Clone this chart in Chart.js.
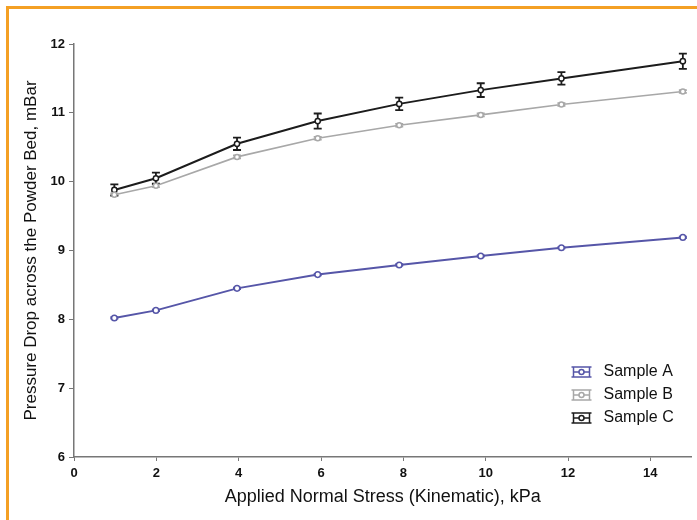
<!DOCTYPE html>
<html>
<head>
<meta charset="utf-8">
<script src="https://cdn.jsdelivr.net/npm/chart.js@4.4.1/dist/chart.umd.min.js"></script>
<style>
  body { margin: 0; background: #fff; }
  #wrap { position: relative; width: 697px; height: 520px; overflow: hidden; }
  #frame { position: absolute; left: 6px; top: 6px; width: 720px; height: 540px;
           border-top: 3px solid #f4a024; border-left: 3px solid #f4a024; pointer-events: none; }
</style>
</head>
<body>
<div id="wrap">
  <canvas id="chart" width="697" height="520"></canvas>
  <div id="frame"></div>
</div>
<script>
// applied normal stress, kPa
var stress = [0.98, 1.99, 3.96, 5.92, 7.9, 9.88, 11.84, 14.79];

// pressure drop, mBar
var sampleA = [8.02, 8.13, 8.45, 8.65, 8.79, 8.92, 9.04, 9.19];
var sampleB = [9.81, 9.94, 10.36, 10.63, 10.82, 10.97, 11.12, 11.31];
var sampleC = [9.88, 10.05, 10.55, 10.88, 11.13, 11.33, 11.50, 11.75];

// error bars (+/-)
var errA = [0.01, 0.01, 0.01, 0.01, 0.01, 0.01, 0.01, 0.01];
var errB = [0.02, 0.02, 0.02, 0.02, 0.02, 0.02, 0.02, 0.02];
var errC = [0.08, 0.08, 0.09, 0.11, 0.09, 0.10, 0.09, 0.11];

var yTicks = [6, 7, 8, 9, 10, 11, 12];
var xTicks = [0, 2, 4, 6, 8, 10, 12, 14];

var font = '"Liberation Sans", Arial, sans-serif';

function pts(ys) {
  return ys.map(function (y, i) { return { x: stress[i], y: y }; });
}

var series = [
  { label: 'Sample A', data: sampleA, err: errA, color: '#5656a8', width: 2, radius: 2.8 },
  { label: 'Sample B', data: sampleB, err: errB, color: '#a8a8a8', width: 1.6, radius: 2.5 },
  { label: 'Sample C', data: sampleC, err: errC, color: '#1c1c1c', width: 2, radius: 2.6 }
];

// error bars drawn through the y scale
var errorBars = {
  id: 'errorBars',
  beforeDatasetsDraw: function (chart) {
    var ctx = chart.ctx, yScale = chart.scales.y;
    chart.data.datasets.forEach(function (ds, di) {
      var meta = chart.getDatasetMeta(di);
      ctx.save();
      ctx.strokeStyle = ds.borderColor;
      ctx.lineWidth = 1.8;
      meta.data.forEach(function (p, i) {
        var v = ds.data[i].y, e = ds.errors[i];
        var top = yScale.getPixelForValue(v + e), bot = yScale.getPixelForValue(v - e);
        ctx.beginPath();
        ctx.moveTo(p.x, top); ctx.lineTo(p.x, bot);
        ctx.moveTo(p.x - 4, top); ctx.lineTo(p.x + 4, top);
        ctx.moveTo(p.x - 4, bot); ctx.lineTo(p.x + 4, bot);
        ctx.stroke();
      });
      ctx.restore();
    });
  }
};

// legend in the lower right of the plot
var cornerLegend = {
  id: 'cornerLegend',
  afterDraw: function (chart) {
    var ctx = chart.ctx, area = chart.chartArea;
    var x0 = area.right - 118, tx = area.right - 88;
    chart.data.datasets.forEach(function (ds, i) {
      var y = area.bottom - 85 + i * 23;
      ctx.save();
      ctx.strokeStyle = ds.borderColor;
      ctx.lineWidth = 1.5;
      ctx.beginPath();
      ctx.moveTo(x0, y); ctx.lineTo(x0 + 16, y);
      [x0, x0 + 16].forEach(function (bx) {
        ctx.moveTo(bx, y - 5); ctx.lineTo(bx, y + 5);
      });
      ctx.moveTo(x0 - 2, y - 5); ctx.lineTo(x0 + 18, y - 5);
      ctx.moveTo(x0 - 2, y + 5); ctx.lineTo(x0 + 18, y + 5);
      ctx.stroke();
      ctx.beginPath();
      ctx.fillStyle = '#fff';
      ctx.arc(x0 + 8, y, 2.5, 0, Math.PI * 2);
      ctx.fill(); ctx.stroke();
      ctx.fillStyle = '#111';
      ctx.font = '16px ' + font;
      ctx.textBaseline = 'middle';
      ctx.fillText(ds.label, tx, y);
      ctx.restore();
    });
  }
};

new Chart(document.getElementById('chart'), {
  type: 'line',
  data: {
    datasets: series.map(function (s) {
      return {
        label: s.label,
        data: pts(s.data),
        errors: s.err,
        borderColor: s.color,
        borderWidth: s.width,
        pointRadius: s.radius,
        pointBorderWidth: 1.5,
        pointBackgroundColor: '#fff',
        pointBorderColor: s.color,
        tension: 0,
        fill: false
      };
    })
  },
  options: {
    responsive: false,
    animation: false,
    layout: { padding: { top: 44, right: 4, left: 0, bottom: 0 } },
    plugins: { legend: { display: false }, tooltip: { enabled: false } },
    scales: {
      x: {
        type: 'linear',
        min: 0, max: 15,
        afterBuildTicks: function (s) { s.ticks = xTicks.map(function (v) { return { value: v }; }); },
        afterFit: function (s) { s.height = 63; },
        border: { display: true, color: '#777', width: 1.5 },
        grid: { drawOnChartArea: false, drawTicks: true, tickLength: 4, color: '#777' },
        ticks: { color: '#111', padding: 5, font: { family: font, size: 13, weight: 'bold' } },
        title: { display: true, text: 'Applied Normal Stress (Kinematic), kPa', color: '#111',
                 padding: { top: 0, bottom: 12 }, font: { family: font, size: 18 } }
      },
      y: {
        min: 6, max: 12,
        afterBuildTicks: function (s) { s.ticks = yTicks.map(function (v) { return { value: v }; }); },
        afterFit: function (s) { s.width = 74; },
        border: { display: true, color: '#777', width: 1.5 },
        grid: { drawOnChartArea: false, drawTicks: true, tickLength: 5, color: '#777' },
        ticks: { color: '#111', padding: 4, font: { family: font, size: 13, weight: 'bold' } },
        title: { display: true, text: 'Pressure Drop across the Powder Bed, mBar', color: '#111',
                 padding: { top: 21, bottom: 0 }, font: { family: font, size: 17 } }
      }
    }
  },
  plugins: [errorBars, cornerLegend]
});
</script>
</body>
</html>
